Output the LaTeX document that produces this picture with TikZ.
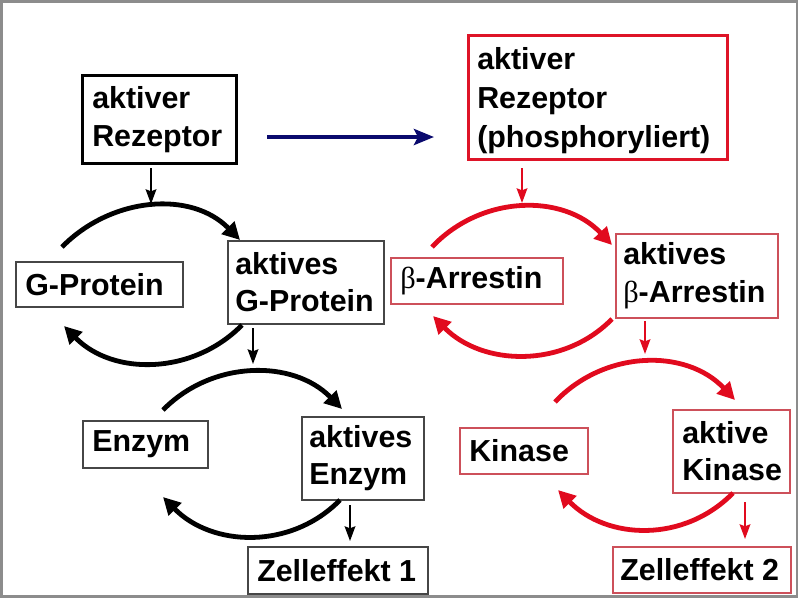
\documentclass[tikz,border=0pt]{standalone}
\usepackage{fontspec}
\setmainfont{Liberation Sans}
\newfontfamily\grk{Liberation Serif}
\usetikzlibrary{arrows.meta}
\definecolor{myred}{RGB}{225,10,30}
\definecolor{boxred}{RGB}{205,80,90}
\definecolor{thickred}{RGB}{222,20,40}
\definecolor{boxgray}{RGB}{70,70,70}
\definecolor{navyarrow}{RGB}{10,10,110}
\definecolor{framegray}{RGB}{140,140,140}
\newcommand{\bet}{{\grk\mdseries β}}
\tikzset{
  lbl/.style={anchor=west, inner sep=0pt, align=left,
    font=\fontsize{22.8}{28}\selectfont\bfseries, text=black},
  boxbase/.style={anchor=north west, rectangle, inner sep=0pt},
  blackbox/.style={boxbase, draw=boxgray, line width=1.2pt},
  redbox/.style={boxbase, draw=boxred, line width=1.2pt},
  blackthick/.style={boxbase, draw=black, line width=2.4pt},
  redthick/.style={boxbase, draw=thickred, line width=2.6pt},
  cyc/.style={line width=3.6pt, -{Triangle[length=13pt,width=13pt]}},
  thinarrow/.style={line width=1.5pt, -{Stealth[length=11pt,width=8pt,inset=1.5pt]}},
}
\begin{document}
\begin{tikzpicture}[x=0.75pt,y=-0.75pt]
\useasboundingbox (0,0) rectangle (799,600);
\draw[framegray, line width=2pt] (1.5,1.5) rectangle (797,596.5);

% ---- left column boxes ----
\node[blackthick, minimum width=154*0.75pt, minimum height=88*0.75pt,
  label={[lbl, xshift=11*0.75pt]west:{aktiver\\Rezeptor}}] (recL) at (81,74) {};
\node[blackbox, minimum width=167*0.75pt, minimum height=45*0.75pt,
  label={[lbl, xshift=10*0.75pt]west:{G-Protein}}] (gp) at (15,261) {};
\node[blackbox, minimum width=156*0.75pt, minimum height=83*0.75pt,
  label={[lbl, xshift=8*0.75pt]west:{aktives\\G-Protein}}] (agp) at (227,240) {};
\node[blackbox, minimum width=125*0.75pt, minimum height=47*0.75pt,
  label={[lbl, xshift=10*0.75pt]west:{Enzym}}] (enz) at (82,420) {};
\node[blackbox, minimum width=122*0.75pt, minimum height=83*0.75pt,
  label={[lbl, xshift=8*0.75pt]west:{aktives\\Enzym}}] (aenz) at (301,416) {};
\node[blackbox, minimum width=180*0.75pt, minimum height=47*0.75pt,
  label={[lbl, xshift=10*0.75pt]west:{Zelleffekt 1}}] (ze1) at (247,546) {};

% ---- right column boxes ----
\node[redthick, minimum width=259*0.75pt, minimum height=124*0.75pt,
  label={[lbl, xshift=10*0.75pt, yshift=-3*0.75pt, font=\fontsize{22.8}{29}\selectfont\bfseries]west:{aktiver\\Rezeptor\\(phosphoryliert)}}] (recR) at (467,34) {};
\node[redbox, minimum width=172*0.75pt, minimum height=46*0.75pt,
  label={[lbl, xshift=10*0.75pt]west:{\bet-Arrestin}}] (ba) at (390,257) {};
\node[redbox, minimum width=162*0.75pt, minimum height=84*0.75pt,
  label={[lbl, xshift=8*0.75pt]west:{aktives\\\bet-Arrestin}}] (aba) at (615,233) {};
\node[redbox, minimum width=128*0.75pt, minimum height=46*0.75pt,
  label={[lbl, xshift=10*0.75pt]west:{Kinase}}] (kin) at (459,427) {};
\node[redbox, minimum width=117*0.75pt, minimum height=83*0.75pt,
  label={[lbl, xshift=10*0.75pt]west:{aktive\\Kinase}}] (akin) at (672,409) {};
\node[redbox, minimum width=178*0.75pt, minimum height=46*0.75pt,
  label={[lbl, xshift=8*0.75pt]west:{Zelleffekt 2}}] (ze2) at (612,546) {};

% ---- connector end points ----
\coordinate (l1s) at (62,247);   \coordinate (l1e) at (240,240);
\coordinate (l2s) at (242,325);  \coordinate (l2e) at (64,326);
\coordinate (l3s) at (163,410);  \coordinate (l3e) at (342,409);
\coordinate (l4s) at (340,500);  \coordinate (l4e) at (163,497);
\coordinate (r1s) at (432,247);  \coordinate (r1e) at (612,245);
\coordinate (r2s) at (612,319);  \coordinate (r2e) at (433,316);
\coordinate (r3s) at (555,402);  \coordinate (r3e) at (735,400);
\coordinate (r4s) at (733,493);  \coordinate (r4e) at (558,490);

\coordinate (t1s) at (151,168);  \coordinate (t1e) at (151,204);
\coordinate (t2s) at (253,328);  \coordinate (t2e) at (253,364);
\coordinate (t3s) at (350,505);  \coordinate (t3e) at (350,541);
\coordinate (t4s) at (522,168);  \coordinate (t4e) at (522,203);
\coordinate (t5s) at (645,321);  \coordinate (t5e) at (645,354);
\coordinate (t6s) at (745,502);  \coordinate (t6e) at (745,539);
\coordinate (bls) at (267,137);  \coordinate (ble) at (434,137);

% ---- cycle arcs ----
\draw[cyc, black] (l1s) .. controls +(49,-50) and +(-49,-50) .. (l1e);
\draw[cyc, black] (l2s) .. controls +(-49,50) and +(49,50) .. (l2e);
\draw[cyc, black] (l3s) .. controls +(49,-50) and +(-49,-50) .. (l3e);
\draw[cyc, black] (l4s) .. controls +(-49,50) and +(49,50) .. (l4e);
\draw[cyc, myred] (r1s) .. controls +(49,-52) and +(-49,-52) .. (r1e);
\draw[cyc, myred] (r2s) .. controls +(-49,50) and +(49,50) .. (r2e);
\draw[cyc, myred] (r3s) .. controls +(49,-52) and +(-49,-52) .. (r3e);
\draw[cyc, myred] (r4s) .. controls +(-49,50) and +(49,50) .. (r4e);

% ---- straight arrows ----
\draw[thinarrow, black] (t1s) -- (t1e);
\draw[thinarrow, black] (t2s) -- (t2e);
\draw[thinarrow, black] (t3s) -- (t3e);
\draw[thinarrow, myred] (t4s) -- (t4e);
\draw[thinarrow, myred] (t5s) -- (t5e);
\draw[thinarrow, myred] (t6s) -- (t6e);
\draw[navyarrow, line width=3pt, -{Stealth[length=15pt,width=12pt,inset=3pt]}] (bls) -- (ble);
\end{tikzpicture}
\end{document}
